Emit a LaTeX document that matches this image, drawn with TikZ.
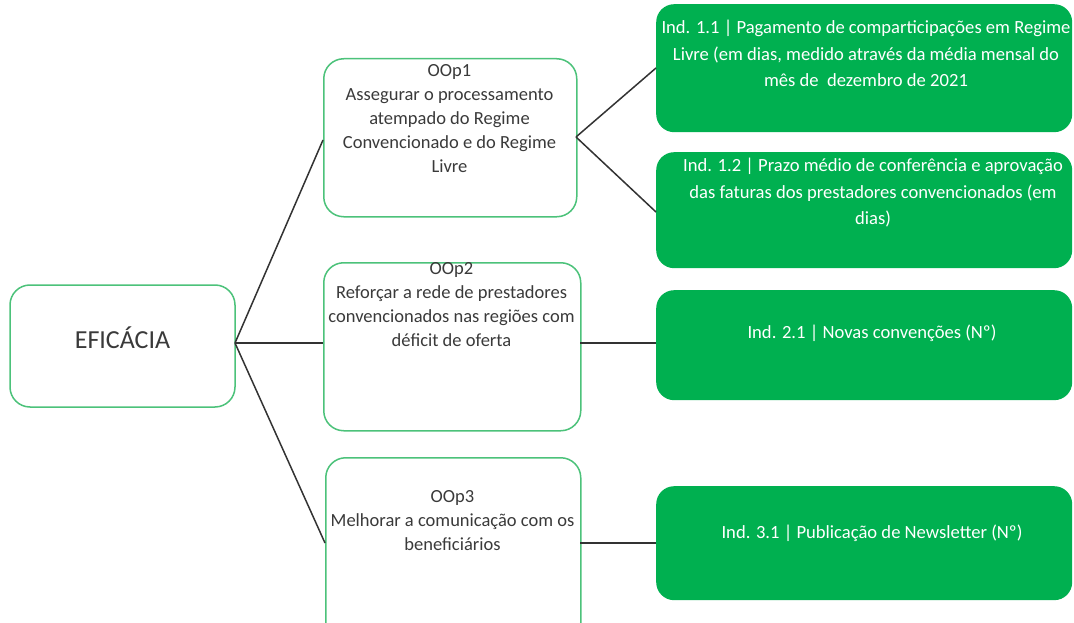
\documentclass[tikz,border=0pt]{standalone}
\usepackage{fontspec}
\setmainfont{Carlito}
\definecolor{indgreen}{HTML}{00B050}
\definecolor{oopgreen}{HTML}{4CC27A}
\definecolor{txtgray}{HTML}{3A3A3A}
\definecolor{linegray}{HTML}{333333}
\begin{document}
\begin{tikzpicture}[x=1pt,y=1pt,
  oopbox/.style={draw=oopgreen,line width=1.5pt,fill=white,rounded corners=20pt,inner sep=0pt},
  indbox/.style={fill=indgreen,draw=none,rounded corners=18pt,inner sep=0pt},
  ooptxt/.style={text=txtgray,align=center,inner sep=0pt,anchor=north,font=\fontsize{18.5}{24}\selectfont},
  indtxt/.style={text=white,align=center,inner sep=0pt,anchor=north,font=\fontsize{18.6}{26.5}\selectfont},
  conn/.style={draw=linegray,line width=1.5pt}]
\useasboundingbox (0,0) rectangle (1074,-623);
\fill[white] (0,0) rectangle (1074,-623);
% boxes
\path[oopbox] (10,-285) rectangle node[text=txtgray,font=\fontsize{26}{30}\selectfont,yshift=8pt] (eftxt) {EFICÁCIA} (235,-407);
\coordinate (ef) at (235,-343);
\node[oopbox,minimum width=253pt,minimum height=158pt,anchor=north west] (o1) at (323,-58) {};
\node[oopbox,minimum width=257pt,minimum height=168pt,anchor=north west] (o2) at (323,-262) {};
\node[oopbox,minimum width=255pt,minimum height=185pt,anchor=north west] (o3) at (325,-457) {};
\node[indbox,minimum width=416pt,minimum height=128pt,anchor=north west] (i11) at (656,-4) {};
\node[indbox,minimum width=416pt,minimum height=116pt,anchor=north west] (i12) at (656,-152) {};
\node[indbox,minimum width=416pt,minimum height=110pt,anchor=north west] (i21) at (656,-290) {};
\node[indbox,minimum width=416pt,minimum height=114pt,anchor=north west] (i31) at (656,-486) {};
% texts
\node[ooptxt] (t1) at (449.5,-64) {OOp1\\Assegurar o processamento\\atempado do Regime\\Convencionado e do Regime\\Livre};
\node[ooptxt] (t2) at (451.5,-262) {OOp2\\Reforçar a rede de prestadores\\convencionados nas regiões com\\déficit de oferta};
\node[ooptxt] (t3) at (452.5,-490) {OOp3\\Melhorar a comunicação com os\\beneficiários};
\node[indtxt] (u11) at (866,-20) {Ind. 1.1 | Pagamento de comparticipações em Regime\\Livre (em dias, medido através da média mensal do\\mês de\ \ dezembro de 2021};
\node[indtxt] (u12) at (873,-158) {Ind. 1.2 | Prazo médio de conferência e aprovação\\das faturas dos prestadores convencionados (em\\dias)};
\node[indtxt] (u21) at (872,-325) {Ind. 2.1 | Novas convenções (Nº)};
\node[indtxt] (u31) at (872,-525) {Ind. 3.1 | Publicação de Newsletter (Nº)};
% connectors
\coordinate (o1l) at (323,-140);
\coordinate (o1r) at (576,-137);
\coordinate (o2l) at (323,-343);
\coordinate (o2r) at (580,-343);
\coordinate (o3l) at (325,-543);
\coordinate (o3r) at (580,-543);
\coordinate (i11l) at (656,-68);
\coordinate (i12l) at (656,-212);
\coordinate (i21l) at (656,-343);
\coordinate (i31l) at (656,-543);
\draw[conn] (ef) -- (o1l);
\draw[conn] (ef) -- (o2l);
\draw[conn] (ef) -- (o3l);
\draw[conn] (o1r) -- (i11l);
\draw[conn] (o1r) -- (i12l);
\draw[conn] (o2r) -- (i21l);
\draw[conn] (o3r) -- (i31l);
\end{tikzpicture}
\end{document}
